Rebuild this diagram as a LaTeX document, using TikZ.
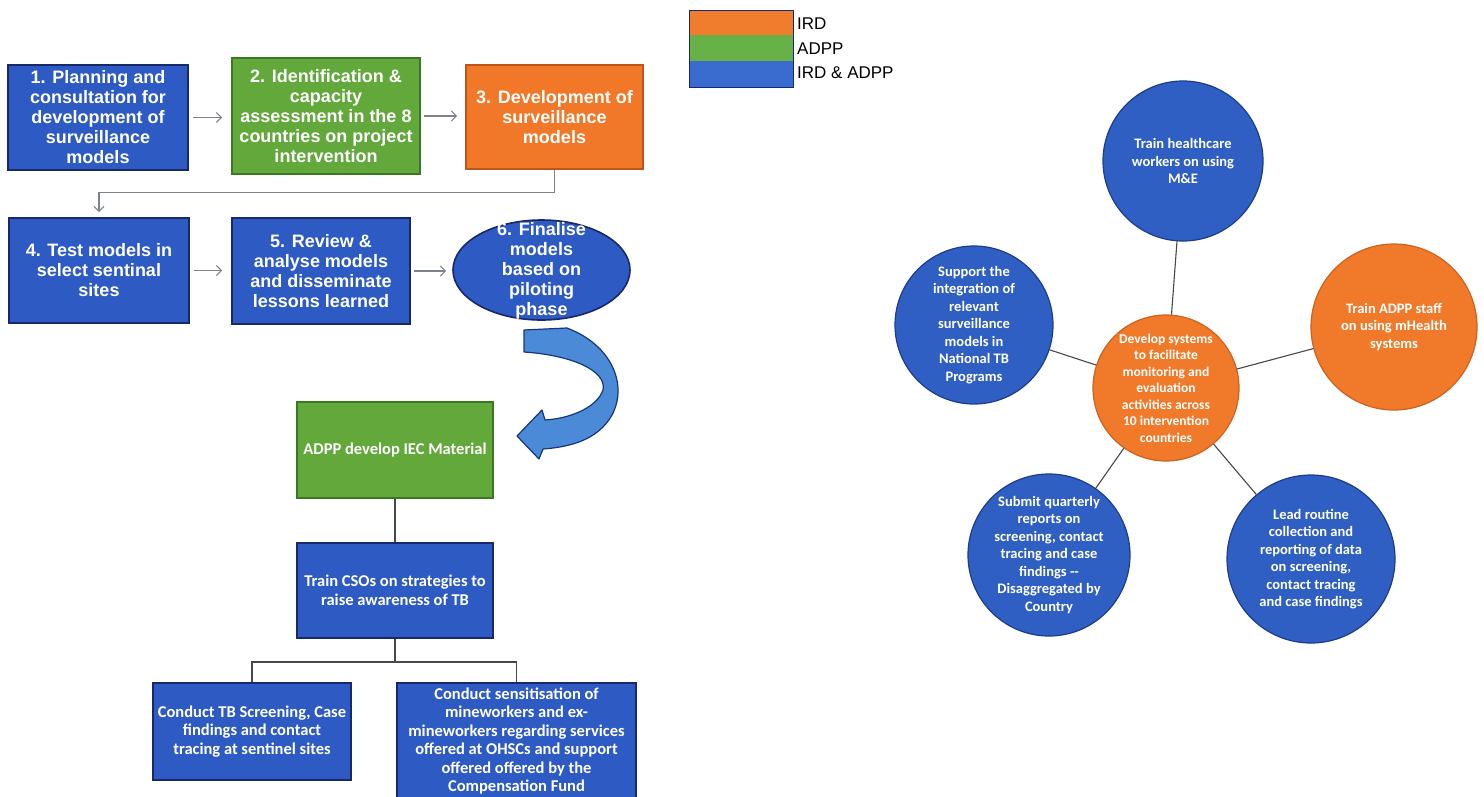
\documentclass[tikz,border=0pt]{standalone}
\usepackage{fontspec}
\setmainfont{Liberation Sans}
\newfontfamily\calfont{Carlito}
\usetikzlibrary{arrows.meta,shapes.geometric}
\definecolor{boxBlue}{RGB}{46,90,196}
\definecolor{boxBlueD}{RGB}{24,40,105}
\definecolor{boxGreen}{RGB}{98,168,58}
\definecolor{boxGreenD}{RGB}{60,120,35}
\definecolor{boxOrange}{RGB}{240,120,40}
\definecolor{boxOrangeD}{RGB}{190,85,25}
\definecolor{legO}{RGB}{240,125,45}
\definecolor{legG}{RGB}{104,176,72}
\definecolor{legB}{RGB}{58,108,208}
\definecolor{arrFill}{RGB}{74,138,214}
\definecolor{arrDraw}{RGB}{25,55,120}
\definecolor{cirBlue}{RGB}{47,95,194}
\definecolor{cirBlueD}{RGB}{30,60,140}
\definecolor{cirOrange}{RGB}{240,122,42}
\definecolor{cirOrangeD}{RGB}{205,98,30}
\definecolor{lineGray}{RGB}{125,130,140}
\definecolor{lineDark}{RGB}{70,72,78}
\begin{document}
\begin{tikzpicture}[x=1pt,y=-1pt,
  tb/.style={rectangle, inner sep=0pt, align=center, text=white,
    font=\bfseries\fontsize{18}{20}\selectfont, line width=1.6pt},
  blueb/.style={tb, fill=boxBlue, draw=boxBlueD},
  greenb/.style={tb, fill=boxGreen, draw=boxGreenD},
  orangeb/.style={tb, fill=boxOrange, draw=boxOrangeD},
  calbox/.style={rectangle, inner sep=0pt, align=center, text=white,
    font=\calfont\bfseries\fontsize{16.5}{18.5}\selectfont, line width=1.6pt},
  cblue/.style={calbox, fill=boxBlue, draw=boxBlueD},
  cgreen/.style={calbox, fill=boxGreen, draw=boxGreenD},
  garrow/.style={draw=lineGray, line width=1.1pt, -{Straight Barb[length=5pt,width=10pt]}},
  gline/.style={draw=lineDark, line width=1.1pt},
  circb/.style={circle, inner sep=0pt, fill=cirBlue, draw=cirBlueD, line width=1.2pt},
  circo/.style={circle, inner sep=0pt, fill=cirOrange, draw=cirOrangeD, line width=1.2pt},
  ctxt/.style={inner sep=0pt, align=center, text=white,
    font=\calfont\bfseries\fontsize{14.5}{17.5}\selectfont},
  legtxt/.style={inner sep=0pt, anchor=west, font=\fontsize{17}{18}\selectfont}
]
\useasboundingbox (0,0) rectangle (1484,796);
\clip (0,0) rectangle (1484,796);
\fill[white] (0,0) rectangle (1484,796);

% legend
\fill[legO] (689,10) rectangle (793,35);
\fill[legG] (689,35) rectangle (793,61);
\fill[legB] (689,61) rectangle (793,87);
\draw[boxBlueD, line width=1pt] (689,10) rectangle (793,87);
\node[legtxt] (l1) at (797,24) {IRD};
\node[legtxt] (l2) at (797,49) {ADPP};
\node[legtxt] (l3) at (797,73) {IRD \& ADPP};

% top flow
\node[blueb, minimum width=180pt, minimum height=105pt] (b1) at (98,117.5)
  {1. Planning and\\consultation for\\development of\\surveillance\\models};
\node[greenb, minimum width=188pt, minimum height=116pt] (b2) at (326,116)
  {2. Identification \&\\capacity\\assessment in the 8\\countries on project\\intervention};
\node[orangeb, minimum width=177pt, minimum height=104pt] (b3) at (554.5,117)
  {3. Development of\\surveillance\\models};
\node[blueb, minimum width=180pt, minimum height=105pt] (b4) at (99,270.5)
  {4. Test models in\\select sentinal\\sites};
\node[blueb, minimum width=178pt, minimum height=106pt] (b5) at (321,271)
  {5. Review \&\\analyse models\\and disseminate\\lessons learned};
\node[ellipse, inner sep=0pt, fill=boxBlue, draw=boxBlueD, line width=1.6pt,
  minimum width=177pt, minimum height=100pt] (e6) at (541.5,270) {};
\node[tb, align=center] (e6t) at (541.5,271) {6. Finalise\\models\\based on\\piloting\\phase};

\draw[garrow, shorten <=4pt, shorten >=9pt] (b1.east) -- (b1.east -| b2.west);
\draw[garrow, shorten <=3pt, shorten >=8pt] (b2.east) -- (b2.east -| b3.west);
\draw[garrow, shorten <=4pt, shorten >=9pt] (b4.east) -- (b4.east -| b5.west);
\draw[garrow, shorten <=3pt, shorten >=6pt] (b5.east) -- (b5.east -| e6.west);
\draw[garrow, shorten >=5pt] (b3.south) -- ++(0,23) -| (b4.north);

% curved block arrow
\draw[fill=arrFill, draw=arrDraw, line width=1.2pt, line join=round]
  (524,330) -- (567,328) .. controls (612,345) and (628,385) .. (612,415)
  .. controls (598,440) and (570,447) .. (543,449) -- (539,459) -- (517,436)
  -- (542,410) -- (545,420) .. controls (575,418) and (598,405) .. (603,390)
  .. controls (607,370) and (570,355) .. (524,352) -- cycle;

% lower flow
\node[cgreen, minimum width=196pt, minimum height=96pt] (g7) at (395,450)
  {ADPP develop IEC Material};
\node[cblue, minimum width=196pt, minimum height=95pt] (b8) at (395,590.5)
  {Train CSOs on strategies to\\raise awareness of TB};
\node[cblue, minimum width=198pt, minimum height=97pt] (b9) at (252,731.5)
  {Conduct TB Screening, Case\\findings and contact\\tracing at sentinel sites};
\node[cblue, minimum width=239pt, minimum height=122pt] (b10) at (516.5,744) {};
\node[calbox] (b10t) at (516.5,741)
  {Conduct sensitisation of\\mineworkers and ex-\\mineworkers regarding services\\offered at OHSCs and support\\offered offered by the\\Compensation Fund};
\coordinate (j) at (395,662);
\draw[gline] (g7) -- (b8);
\draw[gline] (b8.south) -- (j);
\draw[gline] (b9.north) |- (j) -| (b10.north);

% right cluster
\node[circo, minimum size=146pt] (c0) at (1166,388) {};
\node[circb, minimum size=160pt] (c1) at (1183,161) {};
\node[circb, minimum size=158pt] (c2) at (974,325) {};
\node[circo, minimum size=166pt] (c3) at (1394,327) {};
\node[circb, minimum size=162pt] (c4) at (1049,555) {};
\node[circb, minimum size=168pt] (c5) at (1311,559) {};
\draw[gline] (c0) -- (c1);
\draw[gline] (c0) -- (c2);
\draw[gline] (c0) -- (c3);
\draw[gline] (c0) -- (c4);
\draw[gline] (c0) -- (c5);
\node[ctxt, font=\calfont\bfseries\fontsize{13.5}{16.5}\selectfont] (t0) at (c0)
  {Develop systems\\to facilitate\\monitoring and\\evaluation\\activities across\\10 intervention\\countries};
\node[ctxt] (t1) at (c1) {Train healthcare\\workers on using\\M\&E};
\node[ctxt] (t2) at (c2) {Support the\\integration of\\relevant\\surveillance\\models in\\National TB\\Programs};
\node[ctxt] (t3) at (c3) {Train ADPP staff\\on using mHealth\\systems};
\node[ctxt] (t4) at (c4) {Submit quarterly\\reports on\\screening, contact\\tracing and case\\findings --\\Disaggregated by\\Country};
\node[ctxt] (t5) at (c5) {Lead routine\\collection and\\reporting of data\\on screening,\\contact tracing\\and case findings};
\end{tikzpicture}
\end{document}
